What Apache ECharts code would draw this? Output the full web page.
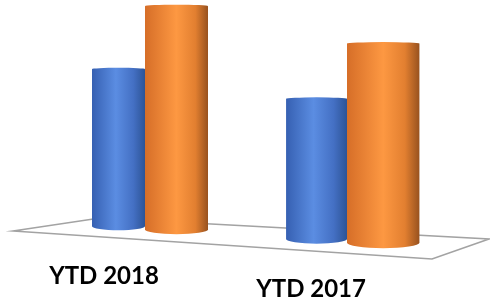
<!DOCTYPE html>
<html>
<head>
<meta charset="utf-8">
<script src="https://cdn.jsdelivr.net/npm/echarts@6/dist/echarts.min.js"></script>
<style>
    html, body { margin: 0; padding: 0; background: #fff; }
    #chart { width: 490px; height: 304px; }
</style>
</head>
<body>
<div id="chart"></div>
<script>
    // data
    const categories = ['YTD 2018', 'YTD 2017'];
    const ytdBlue = [161, 126];
    const ytdOrange = [228, 178];

    // 3D look: bars grow and drop a bit the further right they stand
    const PERSP = 0.00074;
    const FLOOR_SLOPE = 0.068;
    const TOP_RY = 1.5;

    const blueGrad = [
        {offset: 0, color: '#3660b2'},
        {offset: 0.45, color: '#5b8de2'},
        {offset: 0.78, color: '#4470c4'},
        {offset: 1, color: '#2d5496'}
    ];
    const orangeGrad = [
        {offset: 0, color: '#d66e28'},
        {offset: 0.5, color: '#fd9842'},
        {offset: 0.8, color: '#e27f30'},
        {offset: 1, color: '#98521f'}
    ];

    function cylinder(side, baseW, stops) {
        return function (params, api) {
            const firstGc = api.coord([0, 0])[0];
            const zero = api.coord([api.value(0), 0]);
            const top = api.coord([api.value(0), api.value(1)]);
            const gc = zero[0];
            const s = 1 + PERSP * (gc - firstGc);
            const w = baseW * s;
            const x0 = side < 0 ? gc - w : gc;
            const x1 = x0 + w;
            const cx = (x0 + x1) / 2;
            const yLow = zero[1] + FLOOR_SLOPE * (cx - firstGc);
            const h = (zero[1] - top[1]) * s;
            const yTop = yLow - h;
            const rx = w / 2;
            const ry = 0.075 * w;
            const yb = yLow - ry;
            return {
                type: 'path',
                shape: {
                    pathData: 'M' + x0 + ',' + yTop +
                        ' A' + rx + ',' + TOP_RY + ' 0 0 1 ' + x1 + ',' + yTop +
                        ' L' + x1 + ',' + yb +
                        ' A' + rx + ',' + ry + ' 0 0 1 ' + x0 + ',' + yb + ' Z'
                },
                style: {
                    fill: new echarts.graphic.LinearGradient(0, 0, 1, 0, stops)
                }
            };
        };
    }

    function catLabel(params, api) {
        const firstGc = api.coord([0, 0])[0];
        const zero = api.coord([api.value(0), 0]);
        const gc = zero[0];
        const lx = gc - 41 + 0.025 * (gc - firstGc);
        const ly = zero[1] + 44 + 0.065 * (lx - (firstGc - 41));
        return {
            type: 'text',
            style: {
                text: categories[api.value(0)],
                x: lx,
                y: ly,
                align: 'center',
                verticalAlign: 'middle',
                fontFamily: 'Lato',
                fontWeight: 'bold',
                fontSize: 24,
                fill: '#000'
            }
        };
    }

    let myChart = echarts.init(document.getElementById('chart'));
    let option = {
        animation: false,
        grid: {left: 44, right: 42, top: 0, bottom: 72},
        xAxis: {type: 'category', data: categories, show: false},
        yAxis: {type: 'value', min: 0, max: 232, show: false},
        graphic: [
            {
                type: 'polygon',
                z: 0,
                shape: {points: [[13, 231], [100, 218], [489, 239], [432, 259]]},
                style: {fill: 'none', stroke: '#a3a3a3', lineWidth: 1.6}
            }
        ],
        series: [
            {
                type: 'custom',
                name: 'blue',
                renderItem: cylinder(-1, 53, blueGrad),
                data: ytdBlue.map((v, i) => [i, v]),
                z: 3
            },
            {
                type: 'custom',
                name: 'orange',
                renderItem: cylinder(1, 63, orangeGrad),
                data: ytdOrange.map((v, i) => [i, v]),
                z: 4
            },
            {
                type: 'custom',
                name: 'labels',
                renderItem: catLabel,
                data: categories.map((c, i) => [i, 0]),
                z: 5
            }
        ]
    };
    myChart.setOption(option);
</script>
</body>
</html>
